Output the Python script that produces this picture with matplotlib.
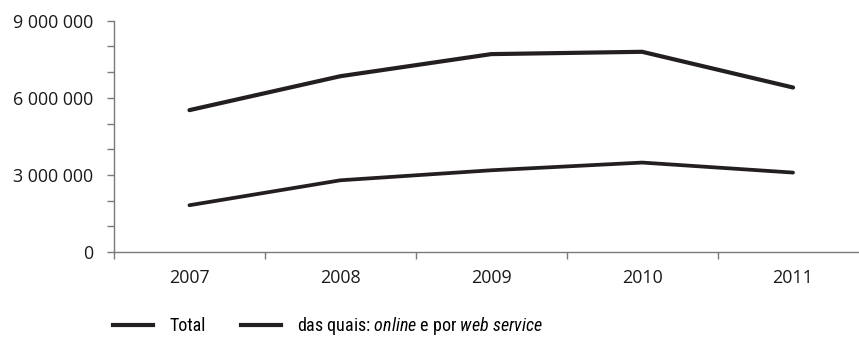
import matplotlib
matplotlib.use("Agg")
import matplotlib.pyplot as plt
from matplotlib import font_manager
from matplotlib.ticker import MultipleLocator, FuncFormatter
from matplotlib.lines import Line2D

years = ["2007", "2008", "2009", "2010", "2011"]
total = [5520000, 6840000, 7700000, 7790000, 6400000]
online_ws = [1820000, 2790000, 3180000, 3480000, 3090000]
series_labels = ["Total", "das quais: $\\mathit{online}$ e por $\\mathit{web\\ service}$"]

available = {f.name for f in font_manager.fontManager.ttflist}
narrow = next((n for n in ["Liberation Sans Narrow", "Arial Narrow", "Roboto Condensed",
                           "PT Sans Narrow", "Archivo Narrow", "Pragati Narrow",
                           "Liberation Sans"] if n in available), "DejaVu Sans")

plt.rcParams["font.family"] = ["Open Sans", "DejaVu Sans"]
plt.rcParams["mathtext.fontset"] = "custom"
plt.rcParams["mathtext.rm"] = narrow
plt.rcParams["mathtext.it"] = f"{narrow}:italic"

W, H = 859, 338
fig = plt.figure(figsize=(W / 100, H / 100), dpi=100)
ax = fig.add_axes([114 / W, (H - 252) / H, (868.5 - 114) / W, (252 - 20.7) / H])

line_color = "#231f20"
x = range(len(years))
ax.plot(x, total, color=line_color, lw=3.0, solid_capstyle="round", solid_joinstyle="round")
ax.plot(x, online_ws, color=line_color, lw=2.7, solid_capstyle="round", solid_joinstyle="round")

ax.set_xlim(-0.5, len(years) - 0.5)
ax.set_ylim(0, 9000000)

for side in ("top", "right"):
    ax.spines[side].set_visible(False)
for side in ("left", "bottom"):
    ax.spines[side].set_color("#7a7a7a")
    ax.spines[side].set_linewidth(1.0)

ax.yaxis.set_major_locator(MultipleLocator(3000000))
ax.yaxis.set_minor_locator(MultipleLocator(1000000))
ax.yaxis.set_major_formatter(FuncFormatter(lambda v, p: f"{int(v):,}".replace(",", " ")))
ax.tick_params(axis="y", which="both", direction="out", length=5, width=1.0,
               color="#7a7a7a", labelsize=12.9, pad=10, labelcolor="#1a1a1a")

ax.set_xticks([i + 0.5 for i in range(-1, len(years))], minor=False)
ax.set_xticklabels([])
ax.set_xticks(list(x), minor=True)
ax.set_xticklabels(years, minor=True)
ax.tick_params(axis="x", which="major", direction="out", length=5, width=1.0, color="#7a7a7a")
ax.tick_params(axis="x", which="minor", length=0, labelsize=12.9, pad=12.5, labelcolor="#1a1a1a")

# legend drawn along the bottom of the figure
handles = [Line2D([], [], color=line_color, lw=3.0) for _ in series_labels]
fig.legend(handles, series_labels, loc="center left", bbox_to_anchor=(104 / W, 1 - 326 / H),
           ncol=2, frameon=False, handlelength=2.2, handletextpad=0.9, columnspacing=2.0,
           borderpad=0, prop={"family": narrow, "size": 13})

fig.savefig("out.png", dpi=100)
